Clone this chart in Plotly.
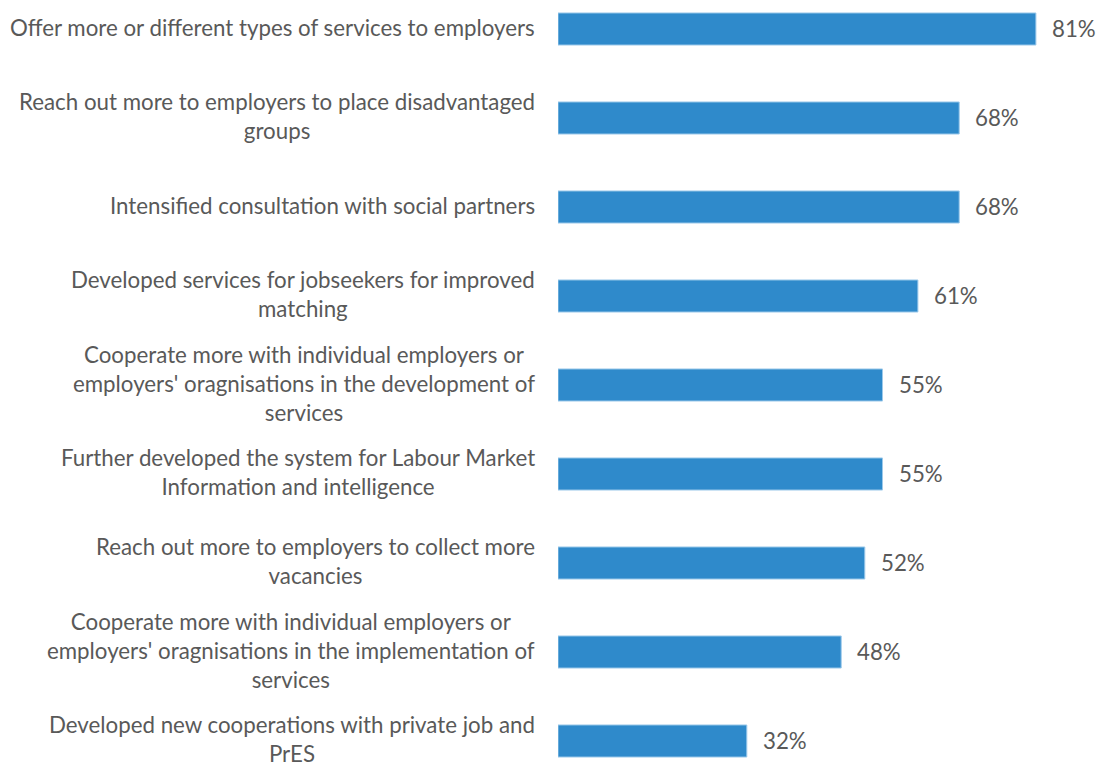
import plotly.graph_objects as go

categories = [
    "Offer more or different types of services to employers",
    "Reach out more to employers to place disadvantaged<br>groups",
    "Intensified consultation with social partners",
    "Developed services for jobseekers for improved<br>matching",
    "Cooperate more with individual employers or<br>employers' oragnisations in the development of<br>services",
    "Further developed the system for Labour Market<br>Information and intelligence",
    "Reach out more to employers to collect more<br>vacancies",
    "Cooperate more with individual employers or<br>employers' oragnisations in the implementation of<br>services",
    "Developed new cooperations with private job and<br>PrES",
]
values = [81, 68, 68, 61, 55, 55, 52, 48, 32]

TEXT_COLOR = "#595959"
FONT = "Lato"
SIZE = 22.3

fig = go.Figure()
fig.add_trace(go.Bar(
    x=values,
    y=list(range(len(categories))),
    orientation="h",
    width=0.36,
    marker=dict(color="#2F8ACB", line=dict(color="#9CC9EA", width=1)),
    hoverinfo="skip",
))

annotations = []
for i, (c, v) in enumerate(zip(categories, values)):
    annotations.append(dict(
        x=0, y=i, xref="paper", yref="y", text=c, showarrow=False,
        xanchor="right", yanchor="middle", align="center", xshift=-21, yshift=2,
        font=dict(family=FONT, size=SIZE, color=TEXT_COLOR),
    ))
    annotations.append(dict(
        x=v, y=i, xref="x", yref="y", text=f"{v}%", showarrow=False,
        xanchor="left", yanchor="middle", xshift=14, yshift=1,
        font=dict(family=FONT, size=SIZE, color=TEXT_COLOR),
    ))

fig.update_layout(
    width=1097, height=762,
    margin=dict(l=558, r=8, t=0, b=0),
    paper_bgcolor="white", plot_bgcolor="white",
    showlegend=False,
    xaxis=dict(range=[0, 90], visible=False),
    yaxis=dict(range=[8 + 21/89, -29/89], visible=False),
    annotations=annotations,
)

fig.write_html(
    "out.html",
    config={"displayModeBar": False, "staticPlot": True},
    post_script="document.body.style.margin='0px';document.body.style.overflow='hidden';",
)
